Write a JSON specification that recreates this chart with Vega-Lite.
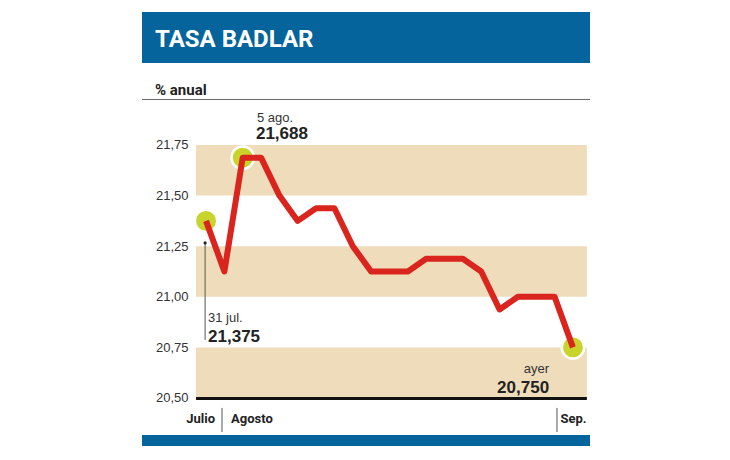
{
  "$schema": "https://vega.github.io/schema/vega-lite/v6.json",
  "description": "Tasa BADLAR, % anual",
  "width": 448,
  "height": 434,
  "autosize": "none",
  "padding": {"left": 142, "top": 12, "right": 140, "bottom": 14},
  "background": "white",
  "config": {"view": {"stroke": null}, "font": "Liberation Sans"},
  "datasets": {
    "tasa": [
      {"n": 0, "tasa": 21.375},
      {"n": 1, "tasa": 21.125},
      {"n": 2, "tasa": 21.6875},
      {"n": 3, "tasa": 21.6875},
      {"n": 4, "tasa": 21.5},
      {"n": 5, "tasa": 21.375},
      {"n": 6, "tasa": 21.4375},
      {"n": 7, "tasa": 21.4375},
      {"n": 8, "tasa": 21.25},
      {"n": 9, "tasa": 21.125},
      {"n": 10, "tasa": 21.125},
      {"n": 11, "tasa": 21.125},
      {"n": 12, "tasa": 21.1875},
      {"n": 13, "tasa": 21.1875},
      {"n": 14, "tasa": 21.1875},
      {"n": 15, "tasa": 21.125},
      {"n": 16, "tasa": 20.9375},
      {"n": 17, "tasa": 21.0},
      {"n": 18, "tasa": 21.0},
      {"n": 19, "tasa": 21.0},
      {"n": 20, "tasa": 20.75}
    ],
    "bandas": [
      {"desde": 20.5, "hasta": 20.75},
      {"desde": 21.0, "hasta": 21.25},
      {"desde": 21.5, "hasta": 21.75}
    ],
    "destacados": [
      {"n": 0, "tasa": 21.375},
      {"n": 2, "tasa": 21.6875},
      {"n": 20, "tasa": 20.75}
    ],
    "uno": [{}]
  },
  "layer": [
    {
      "data": {"name": "bandas"},
      "mark": {"type": "rect", "color": "#efdcba"},
      "encoding": {
        "x": {"datum": -0.545, "type": "quantitative", "scale": {"domain": [-3.49, 20.93], "nice": false, "zero": false}, "axis": null},
        "x2": {"datum": 20.76},
        "y": {"field": "desde", "type": "quantitative", "scale": {"domain": [20.2628, 22.4071], "nice": false, "zero": false},
          "axis": {"values": [20.5, 20.75, 21, 21.25, 21.5, 21.75], "format": ".2f", "labelExpr": "replace(datum.label, '.', ',')",
            "offset": -46, "labelPadding": 0, "ticks": false, "tickSize": 0, "domain": false, "grid": false, "title": null,
            "labelFontSize": 13, "labelColor": "#333333", "labelFont": "Liberation Sans"}},
        "y2": {"field": "hasta"}
      }
    },
    {
      "data": {"name": "uno"},
      "mark": {"type": "rect", "color": "#05649b"},
      "encoding": {
        "y": {"datum": 22.4071, "type": "quantitative"},
        "y2": {"datum": 22.155}
      }
    },
    {
      "data": {"name": "uno"},
      "mark": {"type": "rect", "color": "#05649b"},
      "encoding": {
        "y": {"datum": 20.317, "type": "quantitative"},
        "y2": {"datum": 20.2628}
      }
    },
    {
      "data": {"name": "uno"},
      "mark": {"type": "rule", "color": "#666666", "strokeWidth": 1},
      "encoding": {"y": {"datum": 21.975, "type": "quantitative"}}
    },
    {
      "data": {"name": "uno"},
      "mark": {"type": "rule", "color": "#111111", "strokeWidth": 3},
      "encoding": {
        "x": {"datum": -0.545, "type": "quantitative"},
        "x2": {"datum": 20.76},
        "y": {"datum": 20.497, "type": "quantitative"}
      }
    },
    {
      "data": {"name": "uno"},
      "mark": {"type": "rule", "color": "#555555", "strokeWidth": 1},
      "encoding": {
        "x": {"datum": -0.05, "type": "quantitative"},
        "y": {"datum": 21.266, "type": "quantitative"},
        "y2": {"datum": 20.787}
      }
    },
    {
      "data": {"name": "uno"},
      "mark": {"type": "point", "filled": true, "color": "#222222", "size": 10, "opacity": 1},
      "encoding": {
        "x": {"datum": -0.05, "type": "quantitative"},
        "y": {"datum": 21.266, "type": "quantitative"}
      }
    },
    {
      "data": {"values": [{"corte": 0.87}, {"corte": 19.13}]},
      "mark": {"type": "rule", "color": "#555555", "strokeWidth": 1},
      "encoding": {
        "x": {"field": "corte", "type": "quantitative"},
        "y": {"datum": 20.451, "type": "quantitative"},
        "y2": {"datum": 20.332}
      }
    },
    {
      "data": {"name": "destacados"},
      "mark": {"type": "circle", "color": "#c8d42c", "opacity": 1, "size": 500, "stroke": "white", "strokeWidth": 2.5},
      "encoding": {
        "x": {"field": "n", "type": "quantitative"},
        "y": {"field": "tasa", "type": "quantitative"}
      }
    },
    {
      "data": {"name": "tasa"},
      "mark": {"type": "line", "color": "#d9251d", "strokeWidth": 6, "strokeJoin": "round"},
      "encoding": {
        "x": {"field": "n", "type": "quantitative"},
        "y": {"field": "tasa", "type": "quantitative"}
      }
    },
    {
      "data": {"name": "uno"},
      "mark": {"type": "text", "text": "TASA BADLAR", "align": "left", "baseline": "alphabetic", "font": "Roboto", "fontWeight": "bold", "fontSize": 24, "color": "white"},
      "encoding": {"x": {"datum": -2.78, "type": "quantitative"}, "y": {"datum": 22.234, "type": "quantitative"}}
    },
    {
      "data": {"name": "uno"},
      "mark": {"type": "text", "text": "% anual", "align": "left", "baseline": "alphabetic", "font": "Roboto", "fontWeight": "bold", "fontSize": 15, "color": "#222222"},
      "encoding": {"x": {"datum": -2.78, "type": "quantitative"}, "y": {"datum": 21.997, "type": "quantitative"}}
    },
    {
      "data": {"name": "uno"},
      "mark": {"type": "text", "text": "5 ago.", "align": "left", "baseline": "alphabetic", "fontSize": 13, "color": "#333333"},
      "encoding": {"x": {"datum": 2.78, "type": "quantitative"}, "y": {"datum": 21.864, "type": "quantitative"}}
    },
    {
      "data": {"name": "uno"},
      "mark": {"type": "text", "text": "21,688", "align": "left", "baseline": "alphabetic", "fontWeight": "bold", "fontSize": 17, "color": "#222222"},
      "encoding": {"x": {"datum": 2.72, "type": "quantitative"}, "y": {"datum": 21.78, "type": "quantitative"}}
    },
    {
      "data": {"name": "uno"},
      "mark": {"type": "text", "text": "31 jul.", "align": "left", "baseline": "alphabetic", "fontSize": 13, "color": "#333333"},
      "encoding": {"x": {"datum": 0.11, "type": "quantitative"}, "y": {"datum": 20.875, "type": "quantitative"}}
    },
    {
      "data": {"name": "uno"},
      "mark": {"type": "text", "text": "21,375", "align": "left", "baseline": "alphabetic", "fontWeight": "bold", "fontSize": 17, "color": "#222222"},
      "encoding": {"x": {"datum": 0.11, "type": "quantitative"}, "y": {"datum": 20.777, "type": "quantitative"}}
    },
    {
      "data": {"name": "uno"},
      "mark": {"type": "text", "text": "ayer", "align": "right", "baseline": "alphabetic", "fontSize": 13, "color": "#333333"},
      "encoding": {"x": {"datum": 18.7, "type": "quantitative"}, "y": {"datum": 20.6235, "type": "quantitative"}}
    },
    {
      "data": {"name": "uno"},
      "mark": {"type": "text", "text": "20,750", "align": "right", "baseline": "alphabetic", "fontWeight": "bold", "fontSize": 17, "color": "#222222"},
      "encoding": {"x": {"datum": 18.7, "type": "quantitative"}, "y": {"datum": 20.525, "type": "quantitative"}}
    },
    {
      "data": {"name": "uno"},
      "mark": {"type": "text", "text": "Julio", "align": "right", "baseline": "alphabetic", "font": "Roboto", "fontWeight": "bold", "fontSize": 13, "color": "#222222"},
      "encoding": {"x": {"datum": 0.49, "type": "quantitative"}, "y": {"datum": 20.375, "type": "quantitative"}}
    },
    {
      "data": {"name": "uno"},
      "mark": {"type": "text", "text": "Agosto", "align": "left", "baseline": "alphabetic", "font": "Roboto", "fontWeight": "bold", "fontSize": 13, "color": "#222222"},
      "encoding": {"x": {"datum": 1.36, "type": "quantitative"}, "y": {"datum": 20.375, "type": "quantitative"}}
    },
    {
      "data": {"name": "uno"},
      "mark": {"type": "text", "text": "Sep.", "align": "left", "baseline": "alphabetic", "font": "Roboto", "fontWeight": "bold", "fontSize": 13, "color": "#222222"},
      "encoding": {"x": {"datum": 19.32, "type": "quantitative"}, "y": {"datum": 20.375, "type": "quantitative"}}
    }
  ]
}
